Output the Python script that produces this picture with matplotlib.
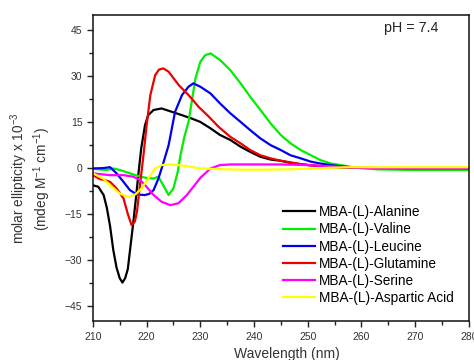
import matplotlib
matplotlib.use('Agg')
import matplotlib.pyplot as plt
from matplotlib.ticker import MultipleLocator

plt.rcParams['font.family'] = ['Liberation Sans', 'DejaVu Sans']
plt.rcParams['mathtext.fontset'] = 'custom'
plt.rcParams['mathtext.rm'] = 'Liberation Sans'
plt.rcParams['mathtext.it'] = 'Liberation Sans:italic'

# CD spectra (wavelength nm, ellipticity x 10^-3)
wl_alanine = [210, 211, 212, 212.6, 213.2, 213.8, 214.4, 215, 215.5, 216, 216.5, 217,
              217.5, 218, 218.5, 219, 219.7, 220.3, 221.3, 222.8, 224.7, 226.6, 228.4,
              230, 231.9, 233.7, 235.6, 237.5, 239.3, 241.2, 243.1, 245, 246.8, 248.7,
              250.6, 252.4, 255, 258, 262, 270, 280]
cd_alanine = [-5.6, -6.1, -8.8, -13, -19, -26.8, -32.5, -36, -37.4, -36, -33, -25.5,
              -18.1, -10, -1.5, 6.5, 14, 17.3, 19, 19.5, 18.4, 17.3, 16.2,
              15.1, 13, 10.8, 9.2, 7.0, 5.3, 3.7, 2.8, 2.4, 1.7, 1.3,
              0.9, 0.6, 0.3, 0.1, 0, 0, 0]

wl_valine = [210, 211, 212.6, 213.8, 215, 216.9, 218.8, 220, 221.3, 222.2, 223.1, 224.1,
             225, 225.8, 226.3, 227, 227.8, 229.1, 230, 230.9, 231.9, 233.7, 235.6,
             237.5, 239.3, 241.2, 243.1, 245, 246.8, 248.7, 250.6, 252.4, 254.3, 256.2,
             258, 260, 263, 270, 280]
cd_valine = [-0.2, -0.4, -0.6, -0.1, -0.6, -1.7, -2.8, -3.2, -3.4, -2.8, -5.6, -8.8,
             -6.6, -1.2, 4.2, 10, 15.1, 29.3, 34.7, 36.9, 37.5, 35.3, 32,
             27.7, 23.3, 19, 14.6, 10.8, 8.1, 5.9, 4.2, 2.6, 1.5, 1.0,
             0.4, 0, -0.4, -0.6, -0.6]

wl_leucine = [210, 211.9, 213.2, 214.4, 215.7, 216.9, 218, 218.8, 219.7, 220.5, 221.3,
              222.2, 223, 224.1, 225.3, 226.6, 227.8, 228.7, 230, 231.9, 233.7, 235.6,
              237.5, 239.3, 241.2, 243.1, 245, 246.8, 248.7, 250.6, 252.4, 254.3, 256.5,
              260, 270, 280]
cd_leucine = [-0.1, 0.0, 0.3, -1.7, -4.5, -7.2, -8.4, -8.7, -8.8, -8.4, -7.2,
              -3.4, 1.0, 7.5, 18.4, 23.9, 26.6, 27.7, 26.6, 24.4, 21.1, 17.9,
              15.1, 12.4, 9.7, 7.5, 5.9, 4.2, 3.2, 2.1, 1.5, 1.0, 0.5,
              0.1, 0, 0]

wl_glutamine = [210, 211.3, 212.2, 213.2, 214.4, 215.7, 216.5, 217.2, 217.8, 218.2,
                218.8, 219.4, 220, 220.7, 221.6, 222.3, 223.1, 224.1, 226, 227.8, 229.7,
                231.6, 233.4, 235.6, 237.5, 239.3, 241.2, 243.1, 245, 246.8, 248.7,
                250.6, 252.4, 255, 258, 262, 270, 280]
cd_glutamine = [-2.3, -3.6, -3.9, -4.5, -6.6, -9.9, -15, -18.6, -17.5, -14.3,
                -5, 4, 14, 23.9, 30.4, 32.2, 32.6, 31.5, 27.1, 23.9, 20,
                16.8, 13.5, 10.2, 8.1, 5.9, 4.2, 3.2, 2.4, 1.9, 1.3,
                0.9, 0.7, 0.4, 0.2, 0, 0, 0]

wl_serine = [210, 213.2, 215.7, 217.5, 218.8, 220, 221.3, 222.8, 224.4, 225.9, 227.5,
             228.7, 230, 231.9, 233.7, 235.6, 240, 245, 250, 253, 256, 260, 270, 280]
cd_serine = [-1.7, -2.3, -2.3, -2.8, -3.9, -6.1, -8.8, -11, -12.1, -11.5, -8.8,
             -6.1, -3.2, -0.1, 1.0, 1.2, 1.2, 1.2, 1.0, 0.7, 0.4, 0.1, 0, 0]

wl_aspartic = [210, 211.9, 213.2, 215, 216.6, 217.9, 219.1, 220.3, 221.6, 222.8, 224.4,
               226.9, 230, 233, 237.5, 242, 246, 250, 254, 258, 265, 280]
cd_aspartic = [-1.7, -3.4, -5.6, -8.3, -9.4, -8.6, -6.6, -3.4, -0.1, 1.0, 1.2,
               0.8, -0.1, -0.3, -0.5, -0.5, -0.4, -0.2, 0.1, 0.3, 0.3, 0.3]

series = [
    ('MBA-(L)-Alanine', wl_alanine, cd_alanine, '#000000'),
    ('MBA-(L)-Valine', wl_valine, cd_valine, '#00ee00'),
    ('MBA-(L)-Leucine', wl_leucine, cd_leucine, '#0000ee'),
    ('MBA-(L)-Glutamine', wl_glutamine, cd_glutamine, '#ee0000'),
    ('MBA-(L)-Serine', wl_serine, cd_serine, '#ff00ff'),
    ('MBA-(L)-Aspartic Acid', wl_aspartic, cd_aspartic, '#ffff00'),
]

fig = plt.figure(figsize=(4.74, 3.6), dpi=100)
ax = fig.add_axes([0.196, 0.108, 0.793, 0.85])

for name, x, y, c in series:
    ax.plot(x, y, color=c, linewidth=1.6, label=name)

ax.set_xlim(210, 280)
ax.set_ylim(-50, 50)
ax.xaxis.set_major_locator(MultipleLocator(10))
ax.xaxis.set_minor_locator(MultipleLocator(5))
ax.yaxis.set_minor_locator(MultipleLocator(7.5))
ax.set_yticks([-45, -30, -15, 0, 15, 30, 45])

ax.tick_params(which='both', direction='out', top=False, right=False,
               width=1.0, colors='#222222', labelsize=7.5, labelcolor='#333333')
ax.tick_params(which='major', length=4)
ax.tick_params(which='minor', length=3)
for s in ax.spines.values():
    s.set_linewidth(1.1)
    s.set_color('#111111')

ax.text(411 / 474, 1 - 28 / 360, 'pH = 7.4', transform=fig.transFigure,
        ha='center', va='center', fontsize=10.3, color='#222222')

fig.text(31 / 474, 1 - 178.5 / 360, 'molar ellipticity x 10$^{-3}$\n(mdeg M$^{-1}$ cm$^{-1}$)',
         rotation=90, ha='center', va='center', fontsize=9.8, color='#333333',
         multialignment='center', linespacing=1.1)
fig.text(287 / 474, 1 - 358 / 360, 'Wavelength (nm)', ha='center', va='baseline',
         fontsize=10, color='#333333')

ax.legend(loc='upper left', bbox_to_anchor=(0.505, 0.379), frameon=False,
          fontsize=9.8, handlelength=2.35, handletextpad=0.3, labelspacing=0.235,
          borderpad=0, borderaxespad=0)

fig.savefig('out.png', dpi=100)
